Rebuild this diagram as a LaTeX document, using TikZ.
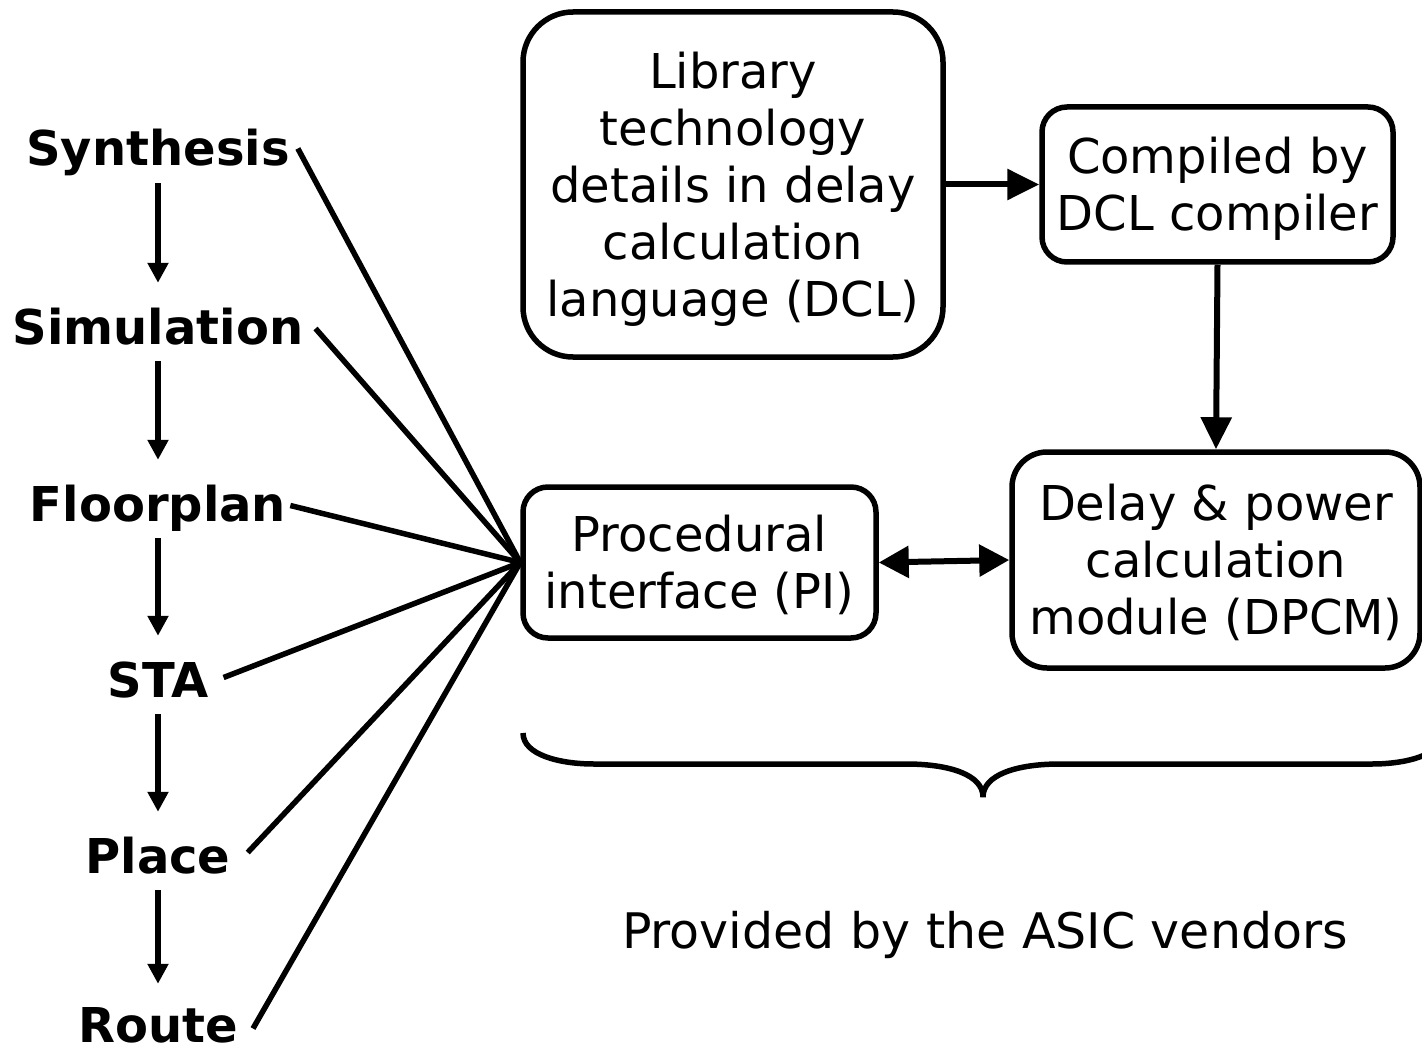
\documentclass[tikz,border=0pt]{standalone}
\usepackage{fontspec}
\setmainfont{DejaVu Sans}
\usetikzlibrary{arrows.meta}
\newcommand{\boxtext}[1]{\raisebox{0pt}[\dimexpr\height+13pt\relax][\depth]{\begin{tabular}{@{}c@{}}#1\end{tabular}}}
\begin{document}
\begin{tikzpicture}[x=1pt,y=-1pt,
  box/.style={draw,line width=5.5pt,inner sep=0pt,font=\fontsize{48}{57}\selectfont},
  lbl/.style={inner sep=0pt,font=\fontsize{48}{57}\selectfont\bfseries,text height=36pt,text depth=11pt,anchor=base},
  arr/.style={line width=6pt,-{Triangle[length=20pt,width=20pt]}},
  barr/.style={line width=6pt,-{Triangle[length=32pt,width=30pt]}},
  darr/.style={line width=6pt,{Triangle[length=30pt,width=31pt]}-{Triangle[length=30pt,width=31pt]}},
  fan/.style={line width=5.5pt},
  txt/.style={inner sep=0pt,font=\fontsize{49}{57}\selectfont}]
\useasboundingbox (0,0) rectangle (1422,1051);
\clip (0,0) rectangle (1422,1051);

% left flow labels
\node[lbl] (syn) at (158,166) {Synthesis};
\node[lbl] (sim) at (158,344) {Simulation};
\node[lbl] (flp) at (158,521) {Floorplan};
\node[lbl] (sta) at (158,697) {STA};
\node[lbl] (plc) at (158,873) {Place};
\node[lbl] (rte) at (158,1042) {Route};

\draw[arr,shorten <=6pt,shorten >=25pt] (syn.south) -- (sim.north);
\draw[arr,shorten <=6pt,shorten >=25pt] (sim.south) -- (flp.north);
\draw[arr,shorten <=6pt,shorten >=25pt] (flp.south) -- (sta.north);
\draw[arr,shorten <=6pt,shorten >=25pt] (sta.south) -- (plc.north);
\draw[arr,shorten <=6pt,shorten >=22pt] (plc.south) -- (rte.north);

% boxes
\node[box,minimum width=420pt,minimum height=345pt,rounded corners=50pt] (lib) at (733,184.5)
  {\boxtext{Library\\technology\\details in delay\\calculation\\language (DCL)}};
\node[box,minimum width=351pt,minimum height=155pt,rounded corners=25pt] (comp) at (1217.5,184.5)
  {\boxtext{Compiled by\\DCL compiler}};
\node[box,minimum width=353pt,minimum height=151pt,rounded corners=25pt] (pi) at (699.5,562.5)
  {\boxtext{Procedural\\interface (PI)}};
\node[box,minimum width=408pt,minimum height=216pt,rounded corners=35pt] (dpcm) at (1216,560)
  {\boxtext{Delay \& power\\calculation\\module (DPCM)}};

% fan lines
\draw[fan] ([shift={(8,-5)}]syn.east) -- (pi.west);
\draw[fan] ([shift={(12,-3)}]sim.east) -- (pi.west);
\draw[fan] ([shift={(4,-3)}]flp.east) -- (pi.west);
\draw[fan] ([shift={(15,-7)}]sta.east) -- (pi.west);
\draw[fan] ([shift={(17,-8)}]plc.east) -- (pi.west);
\draw[fan] ([shift={(15,-1)}]rte.east) -- (pi.west);

% box arrows
\draw[barr] (lib.east) -- (comp.west);
\draw[barr] (comp.south) -- (dpcm.north);
\draw[darr] (pi.east) -- (dpcm.west);

% brace
\draw[line width=5.5pt] (523,733) .. controls (523,755) and (560,764) .. (594,764) -- (906,764)
  .. controls (950,764) and (983,775) .. (983,797)
  .. controls (983,775) and (1016,764) .. (1060,764) -- (1372,764)
  .. controls (1406,764) and (1443,755) .. (1443,733);

\node[txt] (prov) at (985,935) {Provided by the ASIC vendors};
\end{tikzpicture}
\end{document}
